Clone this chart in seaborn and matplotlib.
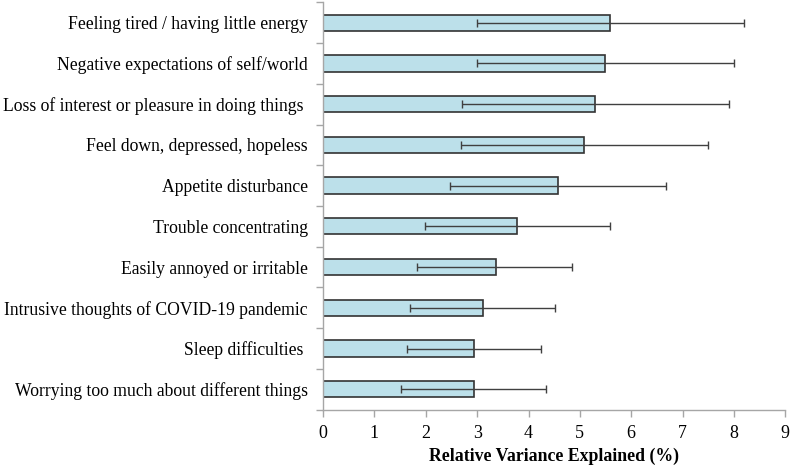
import numpy as np
import pandas as pd
import matplotlib
matplotlib.use('Agg')
import matplotlib.pyplot as plt
import seaborn as sns

symptoms = [
    'Feeling tired / having little energy',
    'Negative expectations of self/world',
    'Loss of interest or pleasure in doing things ',
    'Feel down, depressed, hopeless',
    'Appetite disturbance',
    'Trouble concentrating',
    'Easily annoyed or irritable',
    'Intrusive thoughts of COVID-19 pandemic',
    'Sleep difficulties ',
    'Worrying too much about different things',
]
variance = [5.59, 5.49, 5.30, 5.09, 4.58, 3.78, 3.36, 3.11, 2.94, 2.94]
ci_low = [2.99, 2.99, 2.70, 2.68, 2.47, 1.98, 1.82, 1.69, 1.64, 1.52]
ci_high = [8.20, 8.00, 7.91, 7.49, 6.68, 5.58, 4.84, 4.51, 4.25, 4.34]

df = pd.DataFrame({'symptom': symptoms, 'variance': variance,
                   'low': ci_low, 'high': ci_high})

sns.set_style('white')
plt.rcParams['font.family'] = ['Liberation Serif', 'DejaVu Serif']
plt.rcParams['text.color'] = 'black'
plt.rcParams['xtick.color'] = 'black'
plt.rcParams['ytick.color'] = 'black'

fig = plt.figure(figsize=(7.9, 4.66), dpi=100)
ax = fig.add_axes([0.409, 0.121, 0.585, 0.874])

sns.barplot(data=df, x='variance', y='symptom', orient='h', color='#BCE0EA',
            edgecolor='#333333', linewidth=1.2, width=0.4, saturation=1, ax=ax)

ypos = np.arange(len(df))
xerr = [df['variance'] - df['low'], df['high'] - df['variance']]
ax.errorbar(df['variance'], ypos, xerr=xerr, fmt='none', ecolor='#404040',
            elinewidth=1, capsize=3, capthick=1)

ax.set_xlim(0, 9)
ax.set_ylim(len(df) - 0.5, -0.5)
ax.set_xticks(range(10))
ax.set_xlabel('Relative Variance Explained (%)', fontsize=12.8,
              fontweight='bold', color='black', labelpad=4)
ax.set_ylabel('')

# tick marks sit between categories, labels at centres
ax.set_yticks(np.arange(-0.5, len(df), 1), minor=True)
ax.tick_params(axis='y', which='major', length=0, labelsize=12.7, pad=11,
               labelcolor='black')
ax.tick_params(axis='y', which='minor', length=5, color='#A6A6A6', width=1)
ax.tick_params(axis='x', which='major', length=5, color='#A6A6A6', width=1,
               labelsize=13, direction='out', pad=6, labelcolor='black')
ax.xaxis.set_ticks_position('bottom')
ax.yaxis.set_ticks_position('left')

for side in ['top', 'right']:
    ax.spines[side].set_visible(False)
for side in ['left', 'bottom']:
    ax.spines[side].set_color('#A6A6A6')
    ax.spines[side].set_linewidth(1)

fig.savefig('out.png', dpi=100, facecolor='white')
